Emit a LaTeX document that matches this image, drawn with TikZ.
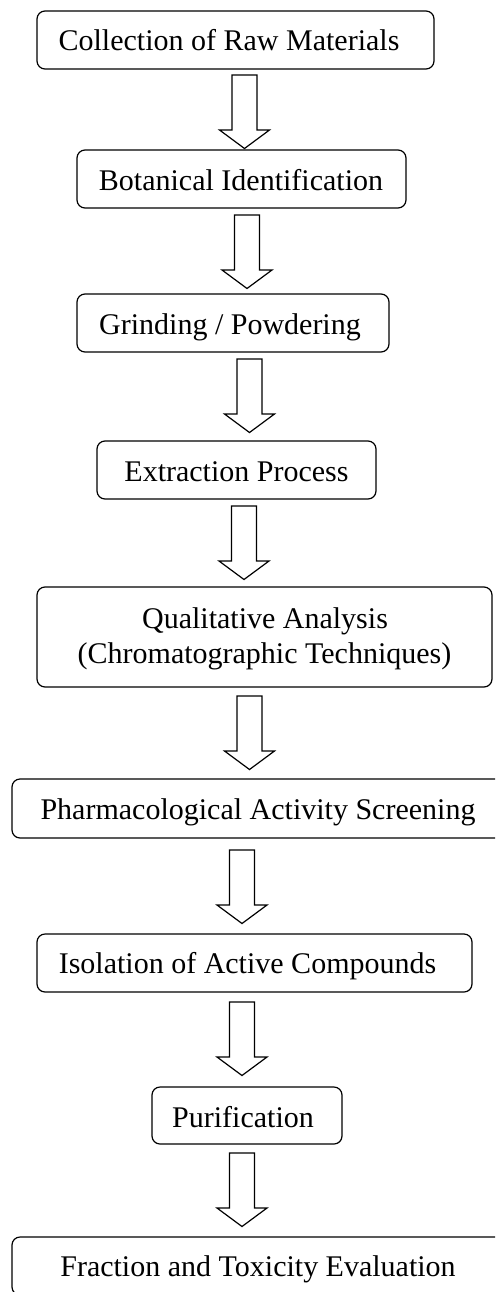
\documentclass[tikz,border=0pt]{standalone}
\usepackage{fontspec}
\setmainfont{Liberation Serif}
\begin{document}
\begin{tikzpicture}[x=1pt,y=-1pt,
  box/.style={draw, line width=1.2pt, rounded corners=8pt, rectangle, inner sep=0pt, minimum height=58pt},
  lbl/.style={anchor=base, inner sep=0pt, font=\fontsize{30}{34.5}\selectfont},
  arrowline/.style={draw, line width=1.2pt, fill=white, line join=miter},
  pics/blockarrow/.style={code={\draw[arrowline] (-12.5,0) -- (12.5,0) -- (12.5,55) -- (25,55) -- (0,73.5) -- (-25,55) -- (-12.5,55) -- cycle;}}]
\useasboundingbox (0,0) rectangle (495,1292);
\clip (0,0) rectangle (495,1292);
% boxes
\node[box, minimum width=397pt] (b1) at (235.5,40) {};
\node[box, minimum width=329pt] (b2) at (241.5,179) {};
\node[box, minimum width=312pt] (b3) at (233,323) {};
\node[box, minimum width=279pt] (b4) at (236.5,470) {};
\node[box, minimum width=455pt, minimum height=100pt] (b5) at (264.5,637) {};
\node[box, minimum width=492pt, minimum height=59pt] (b6) at (258,808.5) {};
\node[box, minimum width=435pt] (b7) at (254.5,963) {};
\node[box, minimum width=190pt, minimum height=57pt] (b8) at (247,1115.5) {};
\node[box, minimum width=492pt] (b9) at (258,1266) {};
% texts
\node[lbl] (t1) at (229,51) {Collection of Raw Materials};
\node[lbl] (t2) at (241,190) {Botanical Identification};
\node[lbl] (t3) at (230,334) {Grinding / Powdering};
\node[lbl] (t4) at (236.5,481) {Extraction Process};
\node[lbl] (t5a) at (265,628) {Qualitative Analysis};
\node[lbl] (t5b) at (264.5,663) {(Chromatographic Techniques)};
\node[lbl] (t6) at (258,819) {Pharmacological Activity Screening};
\node[lbl] (t7) at (247.5,973) {Isolation of Active Compounds};
\node[lbl] (t8) at (243,1127) {Purification};
\node[lbl] (t9) at (258,1276) {Fraction and Toxicity Evaluation};
% block arrows
\coordinate (a1) at (244.5,75);
\coordinate (a2) at (247,215);
\coordinate (a3) at (249.5,359);
\coordinate (a4) at (244,506);
\coordinate (a5) at (249.5,696);
\coordinate (a6) at (242,850);
\coordinate (a7) at (242,1002);
\coordinate (a8) at (242,1153);
\foreach \a in {a1,a2,a3,a4,a5,a6,a7,a8} {\pic at (\a) {blockarrow};}
\end{tikzpicture}
\end{document}
